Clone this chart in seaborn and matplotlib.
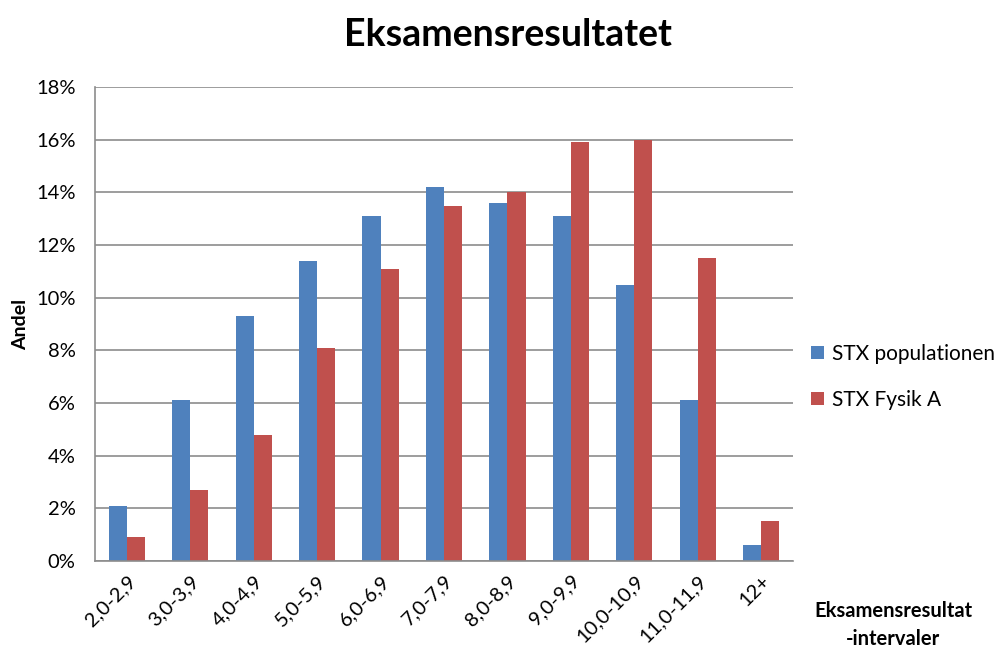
import numpy as np
import pandas as pd
from matplotlib import pyplot as plt
import seaborn as sns

intervaller = ['2,0-2,9', '3,0-3,9', '4,0-4,9', '5,0-5,9', '6,0-6,9', '7,0-7,9',
               '8,0-8,9', '9,0-9,9', '10,0-10,9', '11,0-11,9', '12+']
population = [2.1, 6.1, 9.3, 11.4, 13.1, 14.2, 13.6, 13.1, 10.5, 6.1, 0.6]
fysik_a = [0.9, 2.7, 4.8, 8.1, 11.1, 13.5, 14.0, 15.9, 16.0, 11.5, 1.5]
serier = ['STX populationen', 'STX Fysik A']
yticks = [0, 2, 4, 6, 8, 10, 12, 14, 16, 18]

df = pd.DataFrame({
    'interval': intervaller * 2,
    'andel': population + fysik_a,
    'serie': [serier[0]] * len(intervaller) + [serier[1]] * len(intervaller),
})

sns.set_style('white')
plt.rcParams['font.family'] = ['Lato', 'DejaVu Sans']
plt.rcParams['text.color'] = 'black'
plt.rcParams['xtick.color'] = 'black'
plt.rcParams['ytick.color'] = 'black'
plt.rcParams['axes.labelcolor'] = 'black'

fig = plt.figure(figsize=(9.99, 6.48), dpi=100)
ax = fig.add_axes([0.0951, 0.1343, 0.6987, 0.7314])

sns.barplot(data=df, x='interval', y='andel', hue='serie', ax=ax,
            palette=['#4F81BD', '#C0504D'], width=0.57, gap=0,
            saturation=1, edgecolor='none', linewidth=0)

ax.set_ylim(0, 18)
ax.set_xlim(-0.5, len(intervaller) - 0.5)
ax.set_yticks(yticks)
ax.set_yticklabels([f'{v}%' for v in yticks], fontsize=14.5)
ax.set_axisbelow(True)
ax.yaxis.grid(True, color='#8c8c8c', linewidth=1.2)
ax.tick_params(axis='y', length=0, pad=14)
ax.tick_params(axis='x', length=0, pad=8)
plt.setp(ax.get_xticklabels(), rotation=45, ha='right', rotation_mode='anchor', fontsize=14.5)

for side in ['top', 'right']:
    ax.spines[side].set_visible(False)
for side in ['left', 'bottom']:
    ax.spines[side].set_color('#8c8c8c')
    ax.spines[side].set_linewidth(1.2)

ax.set_xlabel('')
ax.set_ylabel('')
fig.text(0.021, 0.5, 'Andel', rotation=90, ha='center', va='center',
         fontsize=14, fontweight='bold')
fig.text(0.508, 0.946, 'Eksamensresultatet', ha='center', va='center',
         fontsize=27, fontweight='bold')
fig.text(0.894, 0.035, 'Eksamensresultat\n-intervaler', ha='center', va='center',
         fontsize=14.5, fontweight='bold', linespacing=1.5)

handles, labels = ax.get_legend_handles_labels()
ax.get_legend().remove()
fig.legend(handles, labels, loc='center left', bbox_to_anchor=(0.812, 0.418),
           frameon=False, fontsize=15, handlelength=0.6, handleheight=0.6,
           handletextpad=0.4, labelspacing=1.25, borderaxespad=0, borderpad=0)

fig.savefig('out.png', dpi=100)
